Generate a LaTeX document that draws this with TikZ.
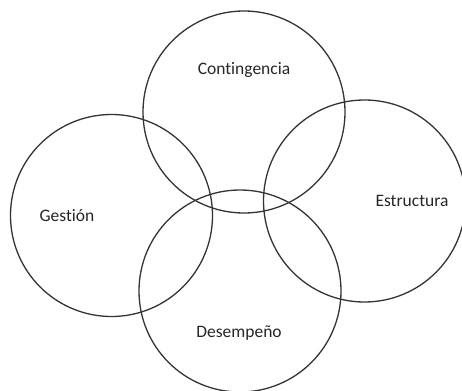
\documentclass[tikz,border=0pt]{standalone}
\usepackage{fontspec}
\setmainfont{Carlito}[Ligatures={NoCommon,NoDiscretionary}]
\begin{document}
\begin{tikzpicture}[x=1pt,y=-1pt,
  ring/.style={circle,draw=black!80,line width=1.3pt,minimum size=202pt,inner sep=0pt},
  lbl/.style={font=\fontsize{17.5}{20}\selectfont,text=black!85,inner sep=0pt}]
\useasboundingbox (0,0) rectangle (462,390);
\node[ring] (cont) at (244,112) {};
\node[ring] (gest) at (111.5,215.5) {};
\node[ring] (estr) at (364.5,201) {};
\node[ring] (dese) at (240,291) {};
\node[lbl] (tcont) at (244,70) {Contingencia};
\node[lbl] (tgest) at (67,216) {Gestión};
\node[lbl] (testr) at (412,201) {Estructura};
\node[lbl] (tdese) at (239,333) {Desempeño};
\end{tikzpicture}
\end{document}
